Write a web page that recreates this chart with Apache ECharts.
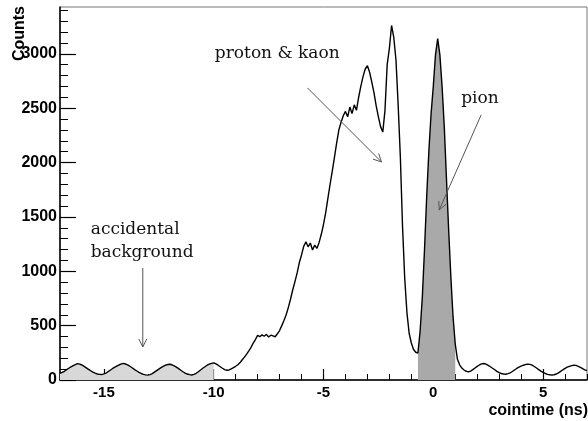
<!DOCTYPE html>
<html><head><meta charset="utf-8">
<script src="https://cdn.jsdelivr.net/npm/echarts@6/dist/echarts.min.js"></script>
<style>html,body{margin:0;padding:0;background:#fff}#c{width:588px;height:421px}</style>
</head><body><div id="c"></div>
<script>
// Histogram: bin centres start at binStart and step by binWidth (ns)
const binStart = -17.0;
const binWidth = 0.1;
const counts = [
  // -17.0 .. -10.0 (accidental background)
  62,70,80,95,108,120,132,142,150,146,
  138,125,112,98,85,72,63,55,52,50,
  56,64,78,92,106,118,130,140,148,153,
  145,136,124,110,96,83,70,60,52,47,
  45,50,58,72,86,100,114,126,136,142,
  145,140,130,118,104,90,76,64,55,49,
  46,52,62,76,92,108,122,136,146,153,
  158,
  // -9.9 .. -5.0
  148,136,122,108,96,90,92,102,114,126,
  140,160,186,210,238,268,300,340,372,410,
  398,415,402,420,395,412,405,398,425,455,
  500,548,600,668,745,830,905,985,1080,1150,
  1230,1270,1225,1260,1195,1240,1210,1265,1340,1430,
  // -4.9 .. -1.0
  1540,1670,1800,1920,2050,2180,2300,2370,2430,2470,
  2420,2510,2450,2530,2480,2600,2700,2790,2860,2890,
  2830,2740,2640,2520,2420,2330,2280,2480,2900,3050,
  3260,3150,2945,2530,2050,1410,930,620,430,340,
  // -0.9 .. 1.0
  280,255,248,450,760,1200,1690,2110,2450,2700,
  2990,3140,2990,2700,2330,1850,1380,950,580,330,
  // 1.1 .. 7.0
  190,140,110,92,80,75,82,95,110,125,
  138,148,152,146,135,122,108,94,80,68,
  60,55,53,58,66,78,92,106,118,128,
  136,142,146,144,136,124,110,96,82,70,
  60,52,48,46,48,55,66,80,94,106,
  118,126,132,136,134,126,116,104,94,86
];
const xTickLabels = [-15, -10, -5, 0, 5];
const xMinorTicks = [-17,-16,-15,-14,-13,-12,-11,-10,-9,-8,-7,-6,-5,-4,-3,-2,-1,0,1,2,3,4,5,6,7];
const yTickLabels = [0, 500, 1000, 1500, 2000, 2500, 3000];
const yMinorTicks = [0,100,200,300,400,500,600,700,800,900,1000,1100,1200,1300,1400,1500,1600,1700,1800,1900,2000,2100,2200,2300,2400,2500,2600,2700,2800,2900,3000,3100,3200,3300,3400];
const accidentalWindow = [-17.0, -10.0];
const pionWindow = [-0.7, 1.0];
const xRange = [-17, 7];
const yRange = [0, 3430];

const annotationTexts = [
  { text: 'proton & kaon', at: [-9.95, 3005] },
  { text: 'pion', at: [1.27, 2590] },
  { text: 'accidental', at: [-15.6, 1380] },
  { text: 'background', at: [-15.6, 1175] }
];
const arrows = [
  { from: [-5.73, 2686], to: [-2.36, 2005] },
  { from: [2.18, 2438], to: [0.27, 1564] },
  { from: [-13.23, 1030], to: [-13.23, 304] }
];

const points = counts.map((c, i) => [Math.round((binStart + i * binWidth) * 100) / 100, c]);
const inWin = (w) => points.filter(p => p[0] >= w[0] - 1e-9 && p[0] <= w[1] + 1e-9);

const sans = 'Liberation Sans, Arial, Helvetica, sans-serif';
const serif = 'DejaVu Serif, serif';
const plain = (v) => String(v);

const chart = echarts.init(document.getElementById('c'), null, { renderer: 'canvas' });
const fillSeries = (data, color) => ({
  type: 'line', data, showSymbol: false, symbol: 'none', silent: true,
  lineStyle: { width: 0, opacity: 0 }, areaStyle: { color, opacity: 1 }, z: 1,
  xAxisIndex: 0, yAxisIndex: 0
});
chart.setOption({
  animation: false,
  backgroundColor: '#fff',
  grid: { left: 60, right: 1, top: 7, bottom: 41, show: true, borderColor: '#777', borderWidth: 1, backgroundColor: 'transparent' },
  xAxis: [
    { type: 'value', min: xRange[0], max: xRange[1], position: 'bottom',
      axisLine: { onZero: false, lineStyle: { color: '#000', width: 1.5 } },
      axisTick: { inside: true, length: 11, customValues: xTickLabels, lineStyle: { color: '#000', width: 1.2 } },
      axisLabel: { customValues: xTickLabels, formatter: plain, fontSize: 15, fontWeight: 'bold', fontFamily: sans, color: '#000', margin: 5 },
      splitLine: { show: false } },
    { type: 'value', min: xRange[0], max: xRange[1], position: 'bottom',
      axisLine: { show: false, onZero: false },
      axisTick: { inside: true, length: 6, customValues: xMinorTicks, lineStyle: { color: '#000', width: 1 } },
      axisLabel: { show: false }, splitLine: { show: false } }
  ],
  yAxis: [
    { type: 'value', min: yRange[0], max: yRange[1], position: 'left',
      axisLine: { show: true, onZero: false, lineStyle: { color: '#000', width: 1.5 } },
      axisTick: { show: true, inside: true, length: 16, customValues: yTickLabels, lineStyle: { color: '#000', width: 1.2 } },
      axisLabel: { customValues: yTickLabels, formatter: plain, fontSize: 16, fontWeight: 'bold', fontFamily: sans, color: '#000', margin: 3 },
      splitLine: { show: false } },
    { type: 'value', min: yRange[0], max: yRange[1], position: 'left',
      axisLine: { show: false, onZero: false },
      axisTick: { show: true, inside: true, length: 8, customValues: yMinorTicks, lineStyle: { color: '#000', width: 1 } },
      axisLabel: { show: false }, splitLine: { show: false } }
  ],
  series: [
    fillSeries(inWin(accidentalWindow), '#d8d8d8'),
    fillSeries(inWin(pionWindow), '#a9a9a9'),
    { type: 'line', data: points, showSymbol: false, symbol: 'none', z: 3,
      lineStyle: { color: '#000', width: 1.4 }, xAxisIndex: 0, yAxisIndex: 0 }
  ]
});

const px = (p) => chart.convertToPixel({ xAxisIndex: 0, yAxisIndex: 0 }, p);
const graphics = [];
annotationTexts.forEach(a => {
  const [x, y] = px(a.at);
  graphics.push({ type: 'text', x, y, z: 10, style: { text: a.text, font: '17px ' + serif, fill: '#111', textAlign: 'left', textVerticalAlign: 'middle' } });
});
arrows.forEach(a => {
  const s = px(a.from), e = px(a.to);
  const dx = e[0] - s[0], dy = e[1] - s[1], L = Math.hypot(dx, dy);
  const ux = dx / L, uy = dy / L, nx = -uy, ny = ux;
  const h = 8, w = 4;
  graphics.push({ type: 'line', z: 10, shape: { x1: s[0], y1: s[1], x2: e[0], y2: e[1] }, style: { stroke: '#555', lineWidth: 1 } });
  graphics.push({ type: 'polyline', z: 10, shape: { points: [[e[0] - h * ux + w * nx, e[1] - h * uy + w * ny], e, [e[0] - h * ux - w * nx, e[1] - h * uy - w * ny]] }, style: { stroke: '#555', lineWidth: 1, fill: null } });
});
graphics.push({ type: 'text', x: 20, y: 6, rotation: Math.PI / 2, z: 10, style: { text: 'Counts', font: 'bold 16px ' + sans, fill: '#000', textAlign: 'right', textVerticalAlign: 'middle' } });
graphics.push({ type: 'text', x: 588, y: 419, z: 10, style: { text: 'cointime (ns)', font: 'bold 16px ' + sans, fill: '#000', textAlign: 'right', textVerticalAlign: 'bottom' } });
chart.setOption({ graphic: graphics });
</script>
</body></html>
